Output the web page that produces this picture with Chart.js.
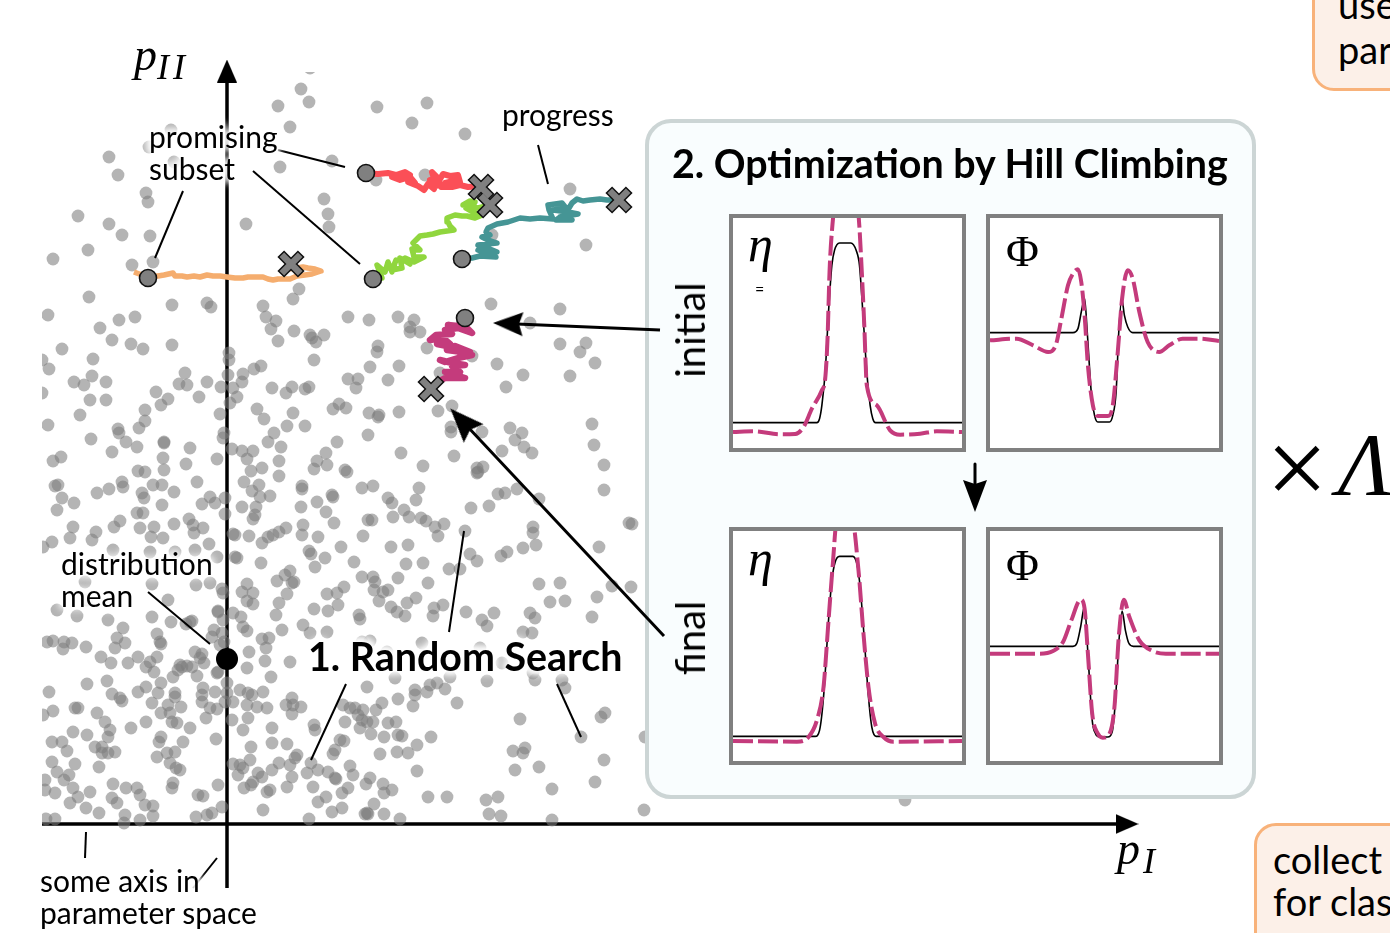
<!DOCTYPE html>
<html>
<head>
<meta charset="utf-8">
<title>Random search and hill climbing</title>
<script src="https://cdn.jsdelivr.net/npm/chart.js@4/dist/chart.umd.min.js"></script>
<style>
    html, body { margin: 0; padding: 0; background: #fff; }
    #page { position: relative; width: 1390px; height: 933px; overflow: hidden; font-family: Lato, sans-serif; color: #000; }
    #page canvas { position: absolute; left: 0; top: 0; }
    .t { position: absolute; white-space: pre; font-size: 30px; line-height: 32px; }
    .halo { text-shadow: 0 0 5px #fff, 0 0 7px #fff, 0 0 9px #fff, 0 0 9px #fff, 0 0 11px #fff, 0 0 11px #fff, 0 0 13px #fff; }
    .head { font-weight: 700; font-size: 39.4px; line-height: 44px; }
    .math { font-family: "Liberation Serif", serif; font-style: italic; }
    .side { font-size: 40px; line-height: 40px; transform: translate(-50%, -50%) rotate(-90deg); }
    .box { position: absolute; background: #fcf0e8; border: 3px solid #f8b27a; border-radius: 22px; box-sizing: border-box; }
    .inset { position: absolute; width: 229px; height: 230px; border: 4px solid #808080; background: #fff; }
    .inset canvas { left: 0; top: 0; }
</style>
</head>
<body>
<div id="page">
    <canvas id="main" width="1390" height="933"></canvas>

    <div class="inset" style="left:729px;top:214px"><canvas id="etaInitial" width="229" height="230"></canvas></div>
    <div class="inset" style="left:986px;top:214px"><canvas id="phiInitial" width="229" height="230"></canvas></div>
    <div class="inset" style="left:729px;top:527px"><canvas id="etaFinal" width="229" height="230"></canvas></div>
    <div class="inset" style="left:986px;top:527px"><canvas id="phiFinal" width="229" height="230"></canvas></div>

    <div class="box" style="left:1312px;top:-40px;width:120px;height:131px"></div>
    <div class="box" style="left:1254px;top:823px;width:180px;height:150px"></div>

    <div class="t" style="left:1338px;top:-18px;font-size:38px;line-height:45px">use
par</div>
    <div class="t" style="left:1273px;top:838px;font-size:38px;line-height:42px">collect
for clas</div>

    <div class="t halo" style="left:149px;top:120px">promising
subset</div>
    <div class="t halo" style="left:502px;top:98px">progress</div>
    <div class="t halo" style="left:61px;top:547px">distribution
mean</div>
    <div class="t halo" style="left:40px;top:864px">some axis in
parameter space</div>
    <div class="t halo head" style="left:308px;top:634px">1. Random Search</div>
    <div class="t head" style="left:672px;top:141px">2. Optimization by Hill Climbing</div>
    <div class="t side" style="left:690px;top:330px">initial</div>
    <div class="t side" style="left:690px;top:638px">final</div>

    <div class="t math" style="left:134px;top:30px;font-size:46px;line-height:50px">p<span style="font-size:36px;position:relative;top:9px;letter-spacing:4px">II</span></div>
    <div class="t math" style="left:1117px;top:824px;font-size:46px;line-height:50px">p<span style="font-size:36px;position:relative;top:9px;left:3px">I</span></div>

    <div class="t math" style="left:748px;top:219px;font-size:50px;line-height:50px">η</div>
    <div class="t" style="left:755px;top:281px;font-size:16px;line-height:16px">=</div>
    <div class="t" style="left:1006px;top:226px;font-family:'Liberation Serif',serif;font-size:45px;line-height:50px">Φ</div>
    <div class="t math" style="left:748px;top:533px;font-size:50px;line-height:50px">η</div>
    <div class="t" style="left:1006px;top:540px;font-family:'Liberation Serif',serif;font-size:45px;line-height:50px">Φ</div>

    <div class="t" style="left:1266px;top:413px;font-family:'Liberation Serif',serif;font-size:110px;line-height:110px">×</div>
    <div class="t math" style="left:1338px;top:420px;font-size:88px;line-height:90px">Λ</div>
</div>

<script>
// Random search samples (x, y in picture units)
const samples = [
    [310,68],[301,89],[309,102],[278,106],[377,107],[427,103],[412,123],[465,134],
    [290,127],[171,130],[149,147],[174,162],[280,167],[332,161],[376,180],[425,175],
    [109,157],[118,175],[146,193],[148,202],[324,199],[328,214],[329,227],[78,216],
    [109,224],[122,235],[150,236],[246,224],[88,250],[53,259],[132,265],[153,262],
    [570,189],[586,245],[492,235],[89,297],[172,305],[207,303],[211,307],[263,306],
    [293,299],[299,289],[266,317],[276,321],[271,329],[294,331],[278,341],[310,335],
    [312,338],[316,342],[324,335],[348,317],[369,320],[398,317],[414,320],[410,327],
    [410,332],[420,332],[491,304],[530,323],[560,309],[560,344],[586,343],[580,352],
    [595,363],[570,376],[523,375],[506,387],[497,364],[472,356],[427,348],[378,346],
    [377,352],[370,367],[399,366],[388,380],[358,379],[348,379],[356,388],[440,373],
    [438,411],[452,406],[339,404],[333,409],[346,408],[369,413],[379,415],[399,412],
    [293,413],[309,387],[305,389],[292,387],[286,393],[272,388],[257,409],[314,360],
    [261,366],[254,369],[243,374],[242,382],[229,353],[229,360],[228,375],[221,387],
    [233,388],[237,397],[230,403],[220,414],[207,382],[199,397],[187,385],[179,384],
    [185,373],[172,345],[156,392],[168,399],[161,405],[145,410],[106,382],[106,400],
    [90,400],[74,382],[84,385],[92,376],[93,359],[49,369],[42,360],[62,349],
    [112,340],[131,344],[143,349],[100,328],[119,320],[135,317],[48,315],[80,415],
    [42,393],[48,425],[91,439],[118,429],[119,433],[126,442],[137,447],[139,428],
    [145,421],[164,442],[164,443],[190,448],[186,464],[163,458],[112,452],[53,461],
    [61,457],[217,459],[224,433],[223,438],[232,449],[242,451],[253,451],[264,419],
    [287,426],[305,426],[274,433],[268,442],[281,447],[368,435],[337,442],[326,453],
    [317,461],[327,465],[314,469],[345,470],[347,472],[279,461],[279,476],[262,468],
    [247,459],[251,471],[244,482],[259,485],[252,491],[260,497],[270,496],[256,507],
    [242,507],[255,515],[253,519],[302,486],[302,489],[301,507],[317,502],[332,495],
    [333,497],[326,512],[334,523],[362,488],[368,520],[363,536],[341,547],[318,537],
    [303,525],[302,535],[309,551],[311,554],[325,558],[315,567],[354,562],[362,577],
    [344,587],[327,594],[337,593],[328,611],[338,605],[314,609],[359,615],[360,619],
    [286,528],[279,532],[273,535],[268,537],[262,543],[249,536],[233,534],[235,535],
    [235,557],[237,558],[261,563],[290,571],[285,575],[294,582],[292,583],[277,581],
    [287,594],[279,603],[276,615],[282,630],[303,625],[310,633],[327,632],[242,592],
    [247,584],[253,593],[247,601],[253,604],[241,617],[233,613],[243,627],[247,631],
    [262,639],[269,638],[266,648],[249,652],[247,668],[265,661],[271,677],[290,662],
    [210,583],[222,589],[223,593],[218,611],[218,612],[223,620],[192,621],[171,622],
    [152,617],[108,620],[77,616],[57,610],[123,628],[117,638],[125,643],[115,648],
    [157,634],[160,642],[161,644],[214,630],[190,622],[186,624],[212,637],[195,652],
    [202,654],[200,658],[204,663],[222,633],[220,645],[224,642],[157,657],[150,662],
    [146,667],[138,657],[128,663],[101,657],[111,663],[86,647],[72,643],[64,642],
    [63,649],[53,641],[47,642],[154,672],[161,683],[173,677],[180,665],[182,667],
    [187,666],[192,667],[178,670],[197,676],[203,688],[217,673],[218,672],[107,681],
    [87,684],[49,692],[112,694],[120,698],[122,701],[138,692],[146,687],[158,693],
    [152,703],[161,713],[168,705],[175,693],[175,697],[181,707],[170,713],[202,695],
    [202,702],[215,692],[210,708],[217,709],[206,718],[227,683],[227,693],[240,690],
    [225,702],[233,702],[232,720],[248,693],[252,695],[247,705],[263,692],[257,707],
    [267,708],[248,718],[243,730],[272,728],[272,743],[287,744],[251,747],[286,705],
    [292,698],[293,705],[301,707],[292,714],[314,725],[315,730],[343,705],[350,708],
    [358,715],[362,720],[360,728],[345,722],[340,740],[344,741],[335,750],[333,754],
    [350,766],[353,775],[335,778],[328,772],[318,770],[307,773],[311,763],[297,755],
    [295,758],[290,765],[279,763],[272,770],[262,777],[258,773],[253,782],[270,790],
    [267,792],[287,787],[292,777],[313,787],[326,797],[318,802],[332,812],[342,808],
    [348,788],[342,793],[336,779],[365,814],[263,810],[309,819],[233,764],[240,765],
    [243,768],[238,775],[250,760],[244,788],[251,785],[218,785],[222,807],[203,796],
    [198,795],[212,813],[207,815],[196,817],[153,806],[153,816],[145,805],[140,820],
    [140,795],[137,788],[126,788],[117,803],[112,798],[113,784],[125,815],[124,823],
    [99,813],[86,808],[78,797],[70,803],[90,792],[73,788],[55,793],[45,780],
    [45,790],[64,780],[69,775],[57,772],[52,762],[75,764],[99,767],[55,819],
    [46,819],[173,783],[172,788],[180,770],[176,768],[170,763],[175,752],[167,753],
    [157,757],[183,742],[159,742],[161,737],[190,728],[177,723],[172,722],[146,722],
    [131,728],[115,752],[108,753],[102,753],[95,747],[102,747],[108,737],[110,730],
    [105,722],[97,713],[87,735],[73,732],[67,751],[62,742],[52,742],[75,708],
    [78,708],[53,711],[43,715],[216,739],[122,482],[123,487],[109,489],[97,493],
    [55,486],[58,485],[62,498],[57,510],[74,503],[138,471],[145,472],[164,470],
    [162,485],[153,485],[142,493],[174,492],[162,505],[144,498],[197,482],[210,497],
    [215,503],[202,504],[225,498],[225,514],[137,513],[143,513],[120,521],[114,527],
    [140,528],[154,527],[174,524],[189,519],[193,525],[194,533],[203,528],[73,527],
    [70,538],[52,542],[43,547],[96,532],[92,540],[151,537],[163,538],[209,544],
    [217,557],[113,550],[150,552],[175,552],[195,550],[85,582],[87,600],[152,584],
    [168,600],[196,585],[378,417],[451,427],[451,432],[482,432],[510,428],[522,433],
    [515,440],[524,447],[532,453],[502,451],[592,424],[594,445],[604,465],[604,490],
    [401,453],[454,456],[423,466],[477,468],[478,472],[483,467],[477,473],[373,486],
    [419,488],[388,498],[392,503],[416,500],[517,489],[505,493],[498,494],[539,499],
    [489,506],[471,508],[404,510],[409,517],[393,517],[421,518],[426,521],[372,520],
    [444,524],[435,527],[438,536],[465,531],[533,527],[533,533],[536,545],[523,548],
    [507,552],[501,556],[629,523],[632,524],[599,547],[391,547],[408,545],[470,554],
    [477,561],[406,564],[423,563],[449,569],[460,569],[398,578],[373,577],[375,582],
    [374,590],[383,592],[388,590],[379,601],[428,583],[539,584],[560,583],[550,602],
    [565,601],[597,597],[612,586],[631,587],[592,617],[416,598],[407,603],[391,607],
    [397,612],[405,616],[443,605],[434,608],[433,616],[466,612],[494,613],[482,620],
    [530,613],[535,618],[487,626],[523,632],[532,633],[362,642],[370,641],[422,643],
    [480,648],[387,652],[502,663],[450,677],[395,678],[487,681],[535,680],[533,673],
    [562,680],[565,688],[367,687],[430,685],[437,683],[445,689],[415,690],[415,695],
    [427,692],[413,706],[398,699],[382,703],[457,703],[376,710],[363,710],[355,708],
    [367,722],[373,722],[371,734],[388,723],[396,722],[384,737],[398,735],[402,736],
    [431,737],[417,745],[408,753],[397,752],[380,754],[417,771],[370,778],[366,784],
    [383,784],[392,790],[384,793],[374,804],[367,813],[368,814],[384,814],[400,819],
    [428,797],[447,797],[486,800],[498,797],[489,814],[501,816],[552,820],[552,789],
    [595,782],[604,760],[539,767],[515,770],[513,751],[523,753],[525,748],[520,719],
    [581,737],[601,717],[605,713],[644,810],[645,737],[905,800]
];

// Hill climbing tracks, each from its start circle to its cross
const orangeTrack = [[134,272],[142,275],[150,276],[158,276],[164,275],[173,273],[175,276],[182,276],[187,277],[194,276],[200,277],[207,275],[213,276],[220,276],[227,277],[235,278],[243,278],[248,277],[254,277],[263,277],[268,279],[273,280],[278,279],[285,279],[290,279],[297,276],[305,275],[312,274],[321,271],[315,269],[308,268],[303,267],[296,268],[288,269],[283,271]];
const redTrack = [[366,173],[378,174],[388,173],[396,175],[405,172],[410,175],[402,178],[392,177],[400,180],[410,177],[415,183],[408,182],[418,186],[424,190],[428,184],[434,189],[430,180],[436,185],[432,172],[438,178],[436,186],[443,174],[450,176],[458,175],[460,182],[458,180],[445,183],[441,187],[452,187],[460,185],[468,187],[481,186]];
const greenTrack = [[373,279],[382,278],[377,265],[385,272],[388,262],[392,272],[396,260],[392,270],[402,268],[400,258],[410,264],[405,258],[414,262],[424,257],[414,257],[412,249],[420,250],[413,243],[416,240],[420,236],[427,235],[433,234],[440,232],[447,231],[454,230],[450,226],[448,222],[447,218],[455,215],[462,216],[467,216],[475,218],[480,216],[473,212],[466,208],[472,206],[463,205],[470,201],[475,202],[472,207],[478,208],[490,205]];
const tealTrack = [[462,259],[472,258],[480,256],[496,257],[485,253],[478,250],[497,252],[485,247],[478,245],[497,243],[488,240],[482,237],[490,235],[486,232],[488,228],[497,224],[508,222],[520,218],[530,219],[540,218],[553,219],[549,210],[548,205],[562,203],[566,208],[553,210],[568,212],[578,214],[560,217],[572,220],[556,220],[566,213],[572,203],[577,199],[583,201],[590,200],[600,199],[607,200],[619,200]];
const pinkTrack = [[465,318],[458,326],[448,325],[466,327],[472,333],[458,328],[445,330],[452,334],[436,335],[430,340],[443,338],[450,344],[437,344],[457,348],[470,352],[455,346],[447,350],[462,352],[472,355],[458,358],[445,362],[440,360],[452,363],[465,365],[452,366],[460,372],[445,372],[452,374],[465,378],[455,378],[445,378],[438,382],[431,388]];

const startPoints = [[366,173],[373,279],[462,259],[148,278],[465,318]];
const endPoints = [[481,187],[490,205],[619,200],[291,264],[431,389]];
const meanPoint = [[227,659]];

// Leader lines beside the labels
const leaders = [
    [[278,150],[345,167]],
    [[253,171],[360,264]],
    [[183,191],[155,258]],
    [[538,145],[548,184]],
    [[148,592],[210,644]],
    [[464,531],[449,632]],
    [[346,684],[311,760]],
    [[557,684],[581,737]],
    [[86,832],[85,858]],
    [[217,858],[193,888]]
];
const axisX = [[42,824],[1125,824]];
const axisY = [[227,888],[227,75]];
const arrowInitial = [[660,330],[505,323.5]];
const arrowFinal = [[664,636],[466,425]];
const arrowDown = [[975,464],[975,490]];

// Curves inside the four small plots (x, y in plot units)
const etaInitialTrue = [[38,652],[290,652],[298,640],[305,600],[315,500],[325,320],[335,180],[343,135],[358,113],[392,113],[408,135],[418,180],[428,320],[440,500],[450,600],[458,640],[466,652],[726,652]];
const etaInitialFit = [[38,680],[100,678],[180,687],[225,686],[250,665],[275,610],[305,555],[315,520],[322,400],[328,200],[335,80],[345,0],[410,0],[416,40],[425,200],[432,350],[440,540],[470,600],[510,675],[540,688],[600,685],[650,678],[726,680]];
const phiInitialTrue = [[810,382],[1060,382],[1075,370],[1085,320],[1095,280],[1103,380],[1115,560],[1125,630],[1135,650],[1170,650],[1180,630],[1190,560],[1198,380],[1207,280],[1215,330],[1225,365],[1240,382],[1500,382]];
const phiInitialFit = [[810,405],[890,400],[940,420],[985,440],[1008,420],[1025,340],[1045,240],[1060,205],[1075,192],[1085,230],[1095,330],[1105,480],[1120,600],[1135,632],[1165,632],[1180,600],[1195,440],[1208,280],[1225,195],[1240,220],[1260,320],[1285,410],[1320,440],[1350,420],[1390,400],[1440,400],[1500,407]];
const etaFinalTrue = [[38,648],[285,648],[298,630],[310,530],[325,300],[335,180],[345,125],[358,108],[398,108],[410,130],[420,200],[432,350],[445,530],[455,620],[468,648],[726,648]];
const etaFinalFit = [[38,662],[230,664],[265,650],[290,600],[310,500],[325,300],[338,130],[350,0],[396,0],[415,150],[430,340],[445,500],[465,610],[490,650],[520,664],[726,662]];
const phiFinalTrue = [[810,378],[1060,378],[1072,368],[1083,320],[1095,258],[1105,400],[1118,600],[1128,640],[1140,650],[1165,650],[1178,635],[1188,540],[1198,370],[1208,272],[1218,330],[1228,368],[1242,378],[1500,378]];
const phiFinalFit = [[810,400],[960,400],[1000,392],[1030,365],[1055,300],[1083,238],[1095,265],[1105,400],[1118,580],[1135,640],[1150,652],[1170,640],[1185,560],[1198,350],[1213,238],[1230,290],[1260,360],[1300,392],[1340,400],[1500,400]];

const toXY = list => list.map(p => ({ x: p[0], y: p[1] }));

// Arrow head shape, pointing up, used as a point style
function makeHead(w, h, notch) {
    const c = document.createElement('canvas');
    c.width = w;
    c.height = h;
    const g = c.getContext('2d');
    g.fillStyle = '#000';
    g.beginPath();
    g.moveTo(w / 2, 0);
    g.lineTo(w, h);
    g.lineTo(w / 2, h - notch);
    g.lineTo(0, h);
    g.closePath();
    g.fill();
    return c;
}

function line(points, color, width) {
    return { type: 'scatter', data: toXY(points), showLine: true, borderColor: color, borderWidth: width, pointRadius: 0, borderJoinStyle: 'round', tension: 0 };
}

function marks(points, style, radius, fill, stroke, width, rotation) {
    return { type: 'scatter', data: toXY(points), pointStyle: style, pointRadius: radius, backgroundColor: fill, borderColor: stroke, borderWidth: width, pointRotation: rotation || 0 };
}

const sampleLayer = marks(samples, 'circle', 6.4, 'rgba(125,125,125,0.58)', 'rgba(0,0,0,0)', 0);
sampleLayer.clip = { left: -42, top: -72, right: 0, bottom: 0 };

const mainSets = [
    line(axisX, '#000', 3.5),
    line(axisY, '#000', 3.5),
    marks([[1127,824]], makeHead(20, 23, 0), 10, '#000', '#000', 0, 90),
    marks([[227,71]], makeHead(20, 23, 0), 10, '#000', '#000', 0, 0),
    sampleLayer,
    ...leaders.map(l => line(l, '#000', 2)),
    line(arrowInitial, '#000', 3),
    line(arrowFinal, '#000', 3),
    line(arrowDown, '#000', 3),
    marks([[508,323.6]], makeHead(24, 30, 4), 10, '#000', '#000', 0, -87.6),
    marks([[462,421]], makeHead(27, 34, 5), 10, '#000', '#000', 0, -43.2),
    marks([[975,496]], makeHead(24, 32, 4), 10, '#000', '#000', 0, 180),
    line(orangeTrack, '#f5ad6e', 5.5),
    line(redTrack, '#fb4f57', 6),
    line(greenTrack, '#90d63e', 5.5),
    line(tealTrack, '#459595', 5.5),
    line(pinkTrack, '#c43b7c', 6.5),
    marks(startPoints, 'circle', 8.5, '#808080', '#111', 1.6),
    marks(endPoints, 'crossRot', 14.5, '#111', '#111', 9.5),
    marks(endPoints, 'crossRot', 13, '#808080', '#808080', 6.5),
    marks(meanPoint, 'circle', 11, '#000', '#000', 0)
];
mainSets.forEach((d, i) => { d.order = -i; });
const sampleIndex = mainSets.indexOf(sampleLayer);

// Rounded panel goes over the samples and under the arrows
const panelPlugin = {
    id: 'panel',
    afterDatasetDraw(chart, args) {
        if (args.index !== sampleIndex) return;
        const ctx = chart.ctx;
        ctx.save();
        ctx.beginPath();
        ctx.roundRect(647, 121, 607, 676, 24);
        ctx.fillStyle = '#f9fdfe';
        ctx.fill();
        ctx.lineWidth = 4;
        ctx.strokeStyle = '#ccd5d5';
        ctx.stroke();
        ctx.restore();
    }
};

new Chart(document.getElementById('main'), {
    type: 'scatter',
    data: { datasets: mainSets },
    plugins: [panelPlugin],
    options: {
        responsive: false,
        animation: false,
        events: [],
        layout: { padding: 0, autoPadding: false },
        plugins: { legend: { display: false }, tooltip: { enabled: false } },
        scales: {
            x: { type: 'linear', display: false, min: 0, max: 1390 },
            y: { type: 'linear', display: false, min: 0, max: 933, reverse: true }
        }
    }
});

function smallPlot(id, truth, fit, xMin, xMax, yMin, yMax) {
    new Chart(document.getElementById(id), {
        type: 'scatter',
        data: {
            datasets: [
                { data: toXY(truth), showLine: true, borderColor: '#000', borderWidth: 1.6, pointRadius: 0, cubicInterpolationMode: 'monotone', order: 2 },
                { data: toXY(fit), showLine: true, borderColor: '#c43b7c', borderWidth: 4, borderDash: [20, 5], pointRadius: 0, cubicInterpolationMode: 'monotone', order: 1 }
            ]
        },
        options: {
            responsive: false,
            animation: false,
            events: [],
            layout: { padding: 0, autoPadding: false },
            plugins: { legend: { display: false }, tooltip: { enabled: false } },
            scales: {
                x: { type: 'linear', display: false, min: xMin, max: xMax },
                y: { type: 'linear', display: false, min: yMin, max: yMax, reverse: true }
            }
        }
    });
}

smallPlot('etaInitial', etaInitialTrue, etaInitialFit, 38, 726, 38, 728);
smallPlot('phiInitial', phiInitialTrue, phiInitialFit, 810, 1500, 38, 728);
smallPlot('etaFinal', etaFinalTrue, etaFinalFit, 38, 726, 32, 722);
smallPlot('phiFinal', phiFinalTrue, phiFinalFit, 810, 1500, 32, 722);
</script>
</body>
</html>
